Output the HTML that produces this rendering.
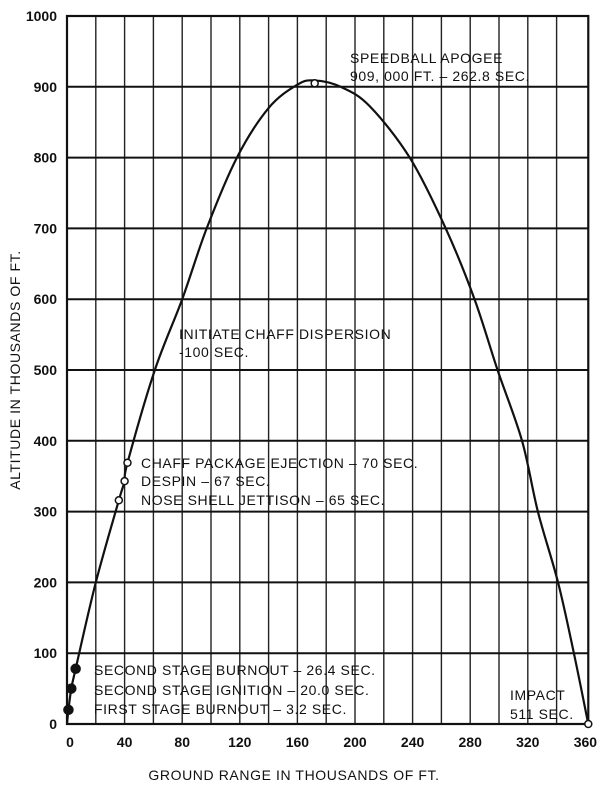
<!DOCTYPE html>
<html><head><meta charset="utf-8"><style>
body{margin:0;background:#fff;}
svg text{font-family:"Liberation Sans",sans-serif;fill:#111;}
.ann{font-size:14px;letter-spacing:0.6px;}
</style></head><body>
<svg width="616" height="800" viewBox="0 0 616 800" xmlns="http://www.w3.org/2000/svg">
<g id="grid"></g>
<g id="axes"></g>
<path id="curve" fill="none" stroke="#111" stroke-width="2.2"/>
<g id="events"></g>
<g class="ann">
<text x="350" y="63">SPEEDBALL APOGEE</text>
<text x="350" y="81">909, 000 FT. – 262.8 SEC.</text>
<text x="179" y="339">INITIATE CHAFF DISPERSION</text>
<text x="179" y="357">-100 SEC.</text>
<text x="141" y="468">CHAFF PACKAGE EJECTION – 70 SEC.</text>
<text x="141" y="486">DESPIN – 67 SEC.</text>
<text x="141" y="505">NOSE SHELL JETTISON – 65 SEC.</text>
<text x="94" y="675">SECOND STAGE BURNOUT – 26.4 SEC.</text>
<text x="94" y="695">SECOND STAGE IGNITION – 20.0 SEC.</text>
<text x="94" y="714">FIRST STAGE BURNOUT – 3.2 SEC.</text>
<text x="510" y="700">IMPACT</text>
<text x="510" y="719">511 SEC.</text>
</g>
<text class="ann" transform="translate(20,370) rotate(-90)" text-anchor="middle">ALTITUDE IN THOUSANDS OF FT.</text>
<text class="ann" x="294" y="780" text-anchor="middle">GROUND RANGE IN THOUSANDS OF FT.</text>
</svg>
<script>
const xTicks=[0,40,80,120,160,200,240,280,320,360];
const xTickLabels=["0","40","80","120","160","200","240","280","320","360"];
const yTicks=[0,100,200,300,400,500,600,700,800,900,1000];
const rangeVals=[0,1,3,6,20,36,40,42,61,80,97,118,140,160,172,190,210,238,263,283,299,316,327,341,352,362];
const altVals=[0,20,50,78,200,316,343,369,500,600,700,800,870,903,909,900,873,800,700,600,500,400,300,200,100,0];
const evRange=[1,3,6,36,40,42,172,362];
const evAlt=[20,50,78,316,343,369,905,0];
const evFilled=[1,1,1,0,0,0,0,0];
const NS="http://www.w3.org/2000/svg";
const X0=67,XS=1.44,Y0=724,YS=0.708;
function sx(v){return X0+v*XS;}
function sy(v){return Y0-v*YS;}
function mk(t,a,p){const e=document.createElementNS(NS,t);for(const k in a)e.setAttribute(k,a[k]);p.appendChild(e);return e;}
const grid=document.getElementById('grid'),axes=document.getElementById('axes');
for(let v=20;v<360;v+=20){const l=mk('line',{x1:sx(v),x2:sx(v),y1:sy(1000),y2:sy(0),stroke:'#222','stroke-width':1.4},grid);

}
yTicks.forEach(v=>{const l=mk('line',{x1:sx(0),x2:sx(362),y1:sy(v),y2:sy(v),stroke:'#111','stroke-width':2},grid);


const t=mk('text',{x:57,y:sy(v)+5,'text-anchor':'end','font-size':14,'font-weight':'bold'},axes);


t.textContent=v;});
const b=mk('rect',{x:sx(0),y:sy(1000),width:sx(362)-sx(0),height:sy(0)-sy(1000),fill:'none',stroke:'#111','stroke-width':2.2},axes);


xTicks.forEach((v,i)=>{const t=mk('text',{x:sx(v)+(i==0?3:0),y:sy(0)+23,'text-anchor':'middle','font-size':14,'font-weight':'bold'},axes);


t.textContent=xTickLabels[i];});
const pts=rangeVals.map((r,i)=>[sx(r),sy(altVals[i])]);
let d='M'+pts[0][0]+','+pts[0][1];
for(let i=0;i<pts.length-1;i++){const p0=pts[Math.max(0,i-1)],p1=pts[i],p2=pts[i+1],p3=pts[Math.min(pts.length-1,i+2)];
const c1=[p1[0]+(p2[0]-p0[0])/6,p1[1]+(p2[1]-p0[1])/6],c2=[p2[0]-(p3[0]-p1[0])/6,p2[1]-(p3[1]-p1[1])/6];
d+=' C'+c1+' '+c2+' '+p2;}
document.getElementById('curve').setAttribute('d',d);
const ev=document.getElementById('events');
evRange.forEach((r,i)=>{const c=mk('circle',{cx:sx(r),cy:sy(evAlt[i]),r:evFilled[i]?4.5:3.5,fill:evFilled[i]?'#111':'#fff',stroke:'#111','stroke-width':1.5},ev);

});
</script>
</body></html>
